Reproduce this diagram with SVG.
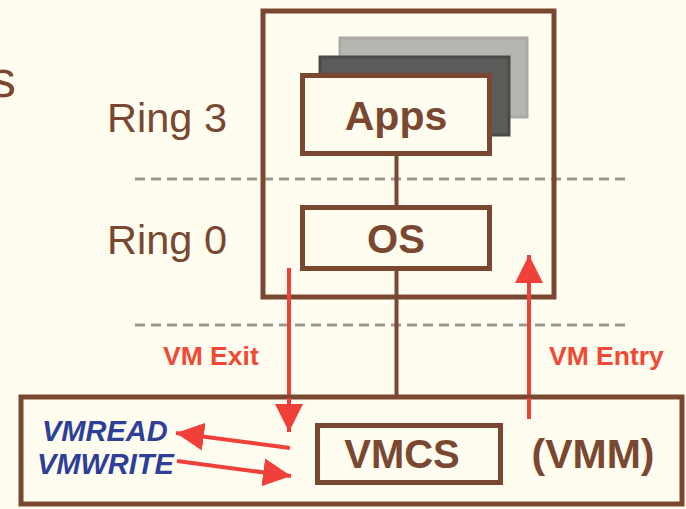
<svg xmlns="http://www.w3.org/2000/svg" width="686" height="509" viewBox="0 0 686 509">
  <defs>
    <style>
      .box { fill: #fffdf0; stroke: #7a4830; stroke-width: 5; }
      .frame { fill: none; stroke: #7a4830; stroke-width: 5; }
      .wire { stroke: #7a4830; stroke-width: 4; fill: none; }
      .dash { stroke: #999994; stroke-width: 3; stroke-dasharray: 10 6; fill: none; }
      .red { stroke: #f0403a; stroke-width: 4; fill: none; }
      .ring { font-family: "Liberation Sans", Arial, sans-serif; font-size: 41.5px; fill: #7a4830; }
      .lbl { font-family: "Liberation Sans", Arial, sans-serif; font-size: 40px; font-weight: bold; fill: #7a4830; text-anchor: middle; }
      .vm { font-family: "Liberation Sans", Arial, sans-serif; font-size: 26.5px; font-weight: bold; fill: #f04a35; }
      .instr { font-family: "Liberation Sans", Arial, sans-serif; font-size: 29px; font-weight: bold; font-style: italic; fill: #2e3f99; }
    </style>
    <marker id="ah" viewBox="0 0 10 10" refX="10" refY="5" markerWidth="7" markerHeight="7" orient="auto" markerUnits="strokeWidth">
      <path d="M0,0 L10,5 L0,10 Z" fill="#f0403a"/>
    </marker>
  </defs>

  <rect x="0" y="0" width="686" height="509" fill="#fffdf0"/>

  <text class="ring" x="16" y="97" text-anchor="end" style="font-size:52px">s</text>

  <!-- ring boundaries -->
  <line class="dash" x1="135" y1="179" x2="628" y2="179"/>
  <line class="dash" x1="135" y1="325" x2="628" y2="325"/>

  <text class="ring" x="107" y="132">Ring 3</text>
  <text class="ring" x="107" y="254">Ring 0</text>

  <!-- guest VM -->
  <g id="guest">
    <rect class="frame" x="263" y="11" width="291" height="286"/>
  </g>

  <!-- connectors -->
  <g id="connectors">
    <line class="wire" x1="396.5" y1="155" x2="396.5" y2="208"/>
    <line class="wire" x1="396.5" y1="270" x2="396.5" y2="396"/>
    <line class="red" x1="289" y1="268" x2="289" y2="432" marker-end="url(#ah)"/>
    <line class="red" x1="529" y1="419" x2="529" y2="255" marker-end="url(#ah)"/>
    <line class="red" x1="290" y1="448" x2="176" y2="433" marker-end="url(#ah)"/>
    <line class="red" x1="177" y1="461" x2="291" y2="476" marker-end="url(#ah)"/>
  </g>

  <g id="apps">
    <rect x="340" y="38" width="187" height="79" fill="#b6b6b1" stroke="#a9a9a5" stroke-width="3"/>
    <rect x="320" y="57" width="189" height="78" fill="#5b5b59" stroke="#4a4a48" stroke-width="3"/>
    <rect class="box" x="302.5" y="75.5" width="187" height="78"/>
    <text class="lbl" x="396" y="130" style="font-size:41px">Apps</text>
  </g>

  <g id="os">
    <rect class="box" x="302.5" y="207.5" width="187" height="61"/>
    <text class="lbl" x="396" y="253">OS</text>
  </g>

  <g id="vmm">
    <rect class="box" x="21" y="397" width="661" height="107" stroke-width="6"/>
    <text class="lbl" x="593" y="468" style="font-size:41px">(VMM)</text>
  </g>

  <!-- arrow segments inside the VMM area, drawn over its fill -->
  <g id="vmm-arrows">
    <line class="red" x1="289" y1="398" x2="289" y2="432" marker-end="url(#ah)"/>
    <line class="red" x1="529" y1="419" x2="529" y2="398"/>
    <line class="red" x1="290" y1="448" x2="176" y2="433" marker-end="url(#ah)"/>
    <line class="red" x1="177" y1="461" x2="291" y2="476" marker-end="url(#ah)"/>
  </g>

  <g id="vmcs">
    <rect class="box" x="317.5" y="425.5" width="183" height="57"/>
    <text class="lbl" x="402" y="468">VMCS</text>
  </g>

  <text class="vm" x="163" y="365">VM Exit</text>
  <text class="vm" x="549" y="365">VM Entry</text>
  <text class="instr" x="42" y="441">VMREAD</text>
  <text class="instr" x="37" y="474">VMWRITE</text>
</svg>
